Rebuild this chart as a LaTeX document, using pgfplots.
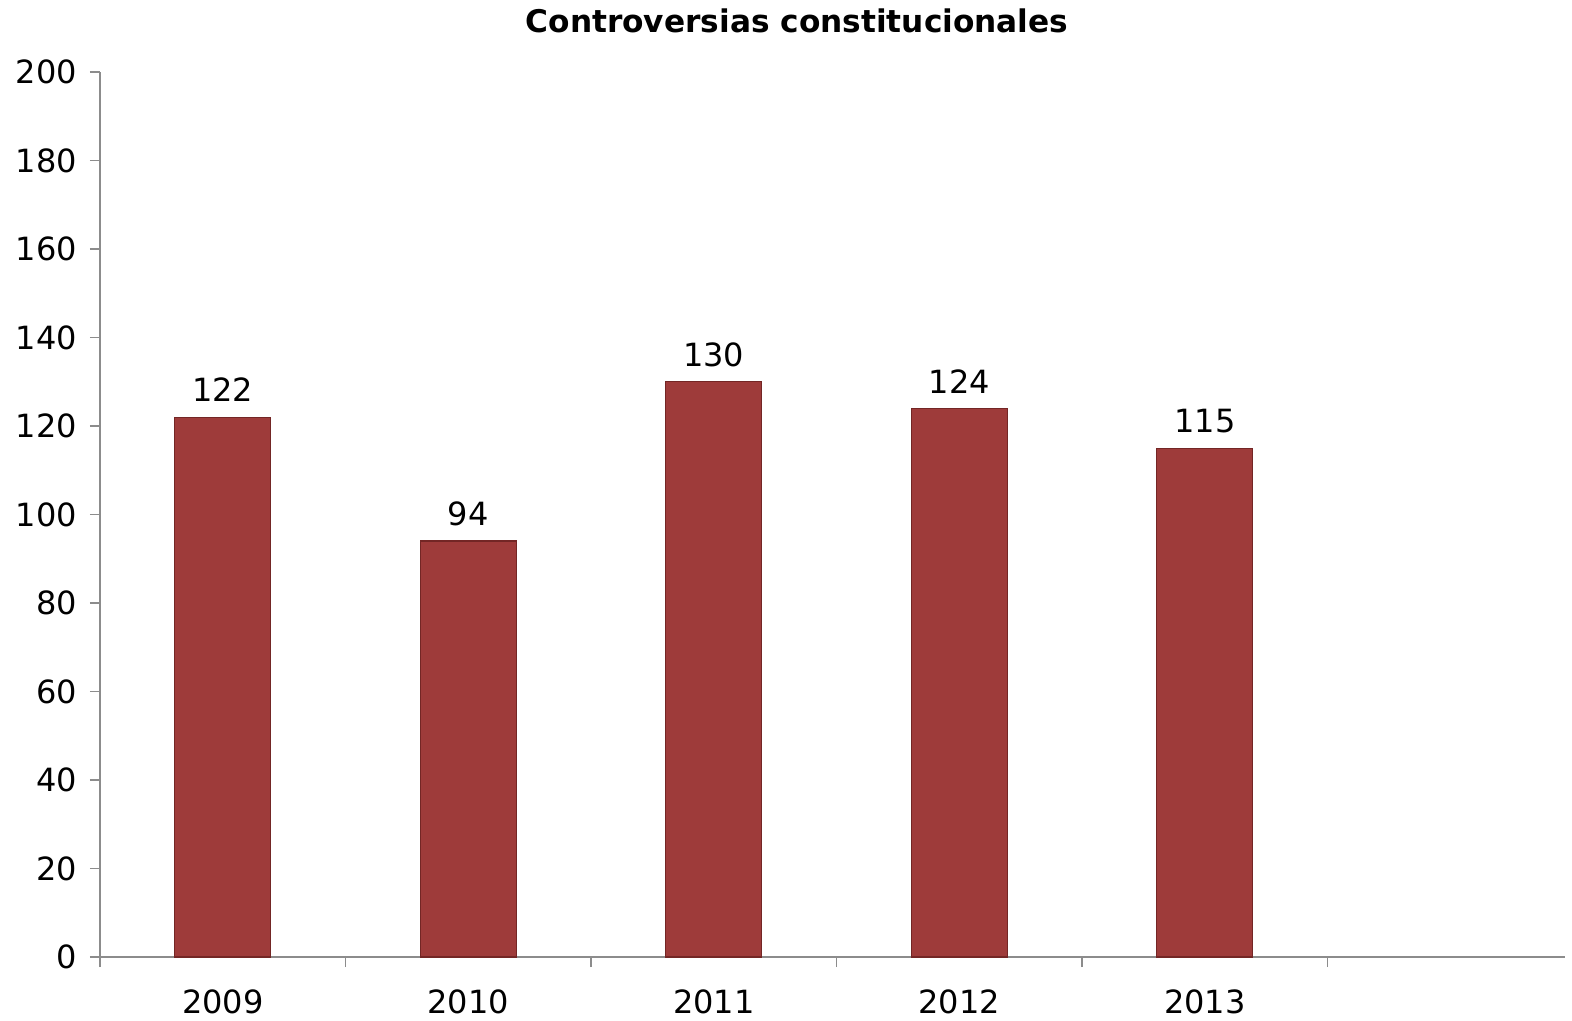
\documentclass[border=0pt]{standalone}
\usepackage{fontspec}
\setmainfont{DejaVu Sans}
\usepackage{pgfplots}
\pgfplotsset{compat=1.18}
\definecolor{barred}{RGB}{158,59,58}
\definecolor{baredge}{RGB}{115,38,37}
\definecolor{axgray}{RGB}{140,140,140}
\begin{document}
\begin{tikzpicture}
\begin{axis}[
    at={(0,0)}, anchor=south west,
    scale only axis,
    width=732.5pt, height=442.5pt,
    xmin=-0.5, xmax=5.467,
    ymin=0, ymax=200,
    ytick={0,20,...,200},
    xtick={0,1,2,3,4},
    xticklabels={2009,2010,2011,2012,2013},
    minor xtick={-0.5,0.5,1.5,2.5,3.5,4.5},
    major x tick style={draw=none},
    minor tick length=5pt,
    major tick length=5pt,
    tick align=outside,
    axis x line*=bottom,
    axis y line*=left,
    axis line style={axgray, line width=0.6pt},
    every tick/.style={axgray, line width=0.6pt},
    tick label style={font=\fontsize{16}{18}\selectfont, black},
    yticklabel style={xshift=-3pt},
    xticklabel style={yshift=-8pt},
    /pgf/number format/assume math mode=true,
    ybar, bar width=48pt,
    nodes near coords,
    every node near coord/.style={font=\fontsize{16}{18}\selectfont, black, yshift=4pt},
    clip=false,
]
\addplot[fill=barred, draw=baredge, line width=0.6pt] coordinates {(0,122) (1,94) (2,130) (3,124) (4,115)};
\end{axis}
\node[anchor=base, font=\bfseries\fontsize{15.6}{18}\selectfont] at (348.5pt,462pt) {Controversias constitucionales};
\useasboundingbox (-50pt,-29.5pt) rectangle (736pt,478.5pt);
\end{tikzpicture}
\end{document}
